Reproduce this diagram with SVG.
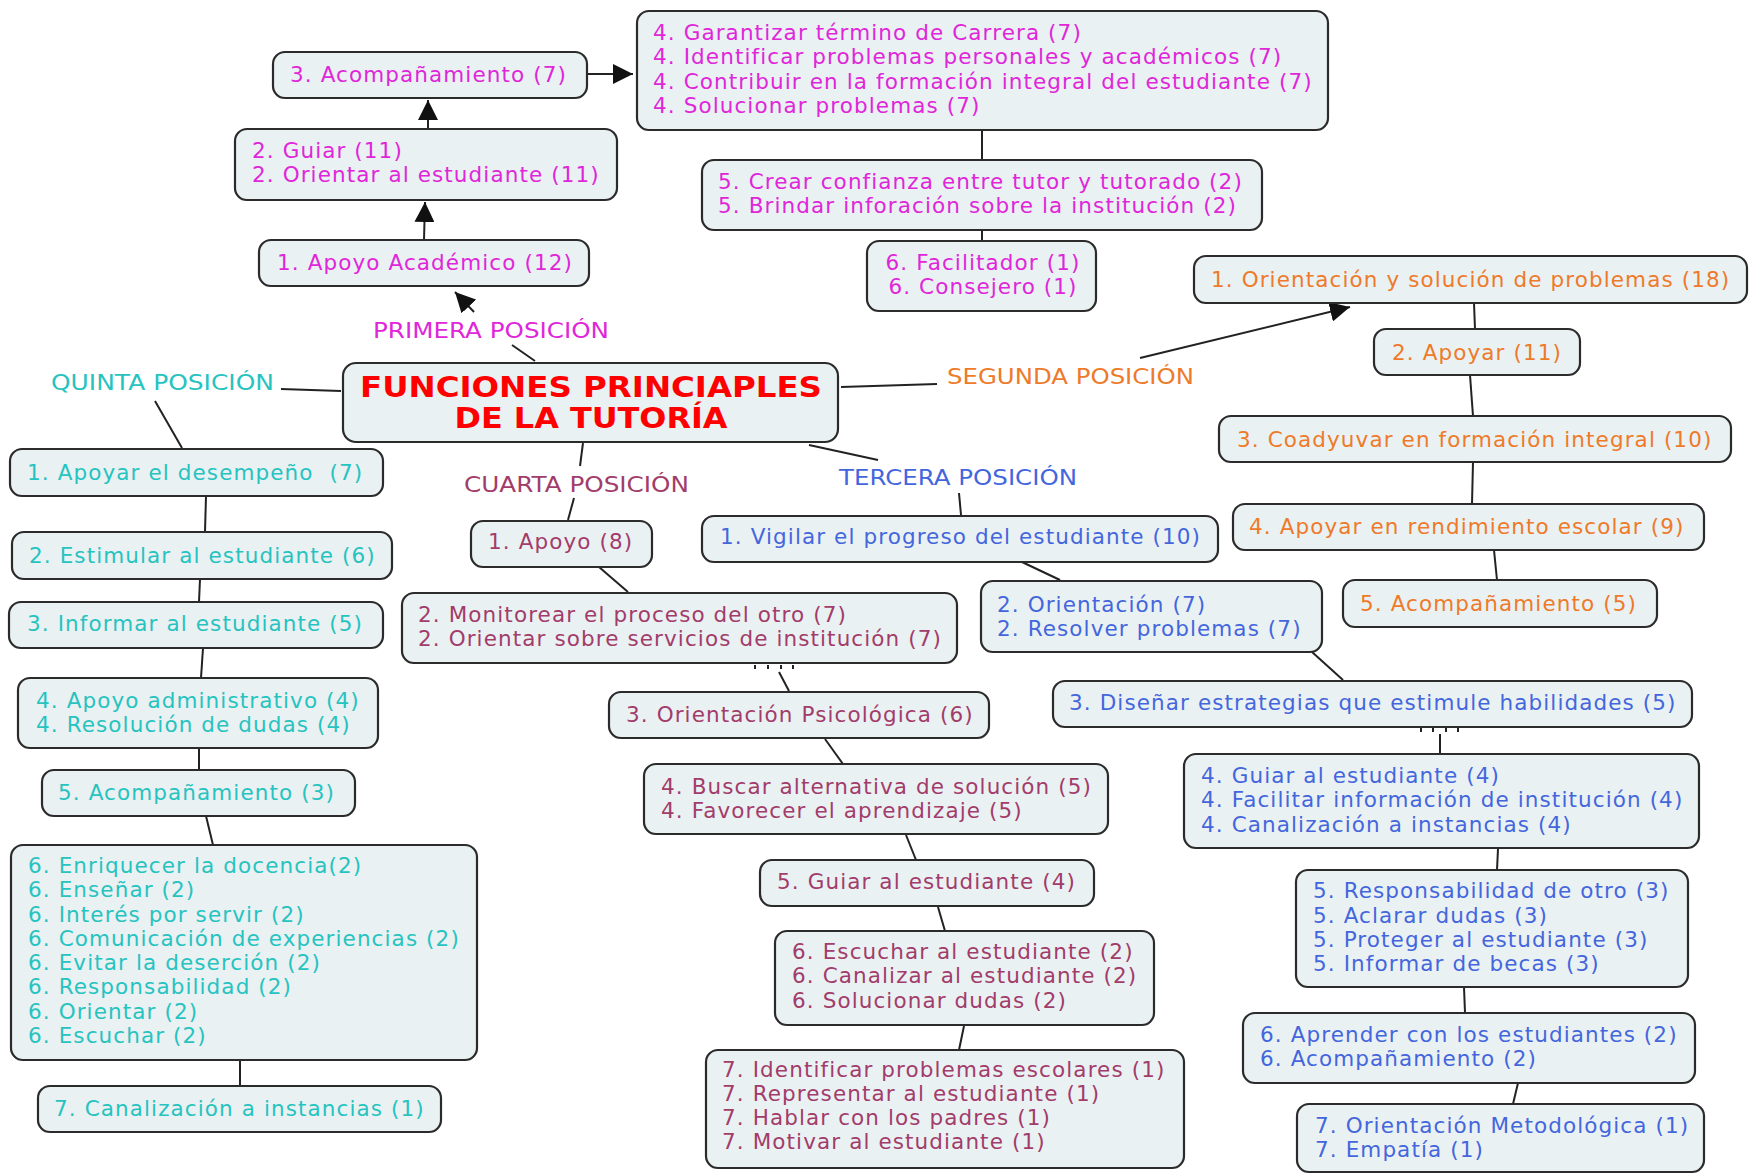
<svg xmlns="http://www.w3.org/2000/svg" width="1749" height="1174" viewBox="0 0 1749 1174">
<defs>
<marker id="ah" viewBox="0 0 10 10" refX="10" refY="5" markerWidth="20" markerHeight="20" markerUnits="userSpaceOnUse" orient="auto"><path d="M0,0 L10,5 L0,10 z" fill="#111"/></marker>
<style>
.box{fill:#eaf1f3;stroke:#2b2b2b;stroke-width:2.2}
text{font-family:"DejaVu Sans",Verdana,sans-serif;font-size:21.5px;letter-spacing:1.1px}
.pk{fill:#e026d9}.or{fill:#ee7a2a}.cy{fill:#26c3c0}.mr{fill:#a23c6a}.bl{fill:#4466dd}
.lbl{letter-spacing:0;font-size:20.5px}
.ttl{fill:#f00;font-weight:bold;font-size:28px;letter-spacing:0}
.cn line,.cn path{stroke:#222;stroke-width:2;fill:none}
.arr{marker-end:url(#ah)}
</style>
</defs>
<rect width="1749" height="1174" fill="#fff"/>

<g class="cn" id="connectors">
<line x1="535" y1="361" x2="512" y2="345"/>
<line class="arr" x1="474" y1="312" x2="455" y2="292"/>
<line class="arr" x1="424" y1="240" x2="425" y2="202"/>
<line class="arr" x1="428" y1="129" x2="428" y2="100"/>
<line class="arr" x1="588" y1="74" x2="633" y2="74"/>
<line x1="982" y1="130" x2="982" y2="159"/>
<line x1="982" y1="230" x2="982" y2="241"/>
<line x1="841" y1="387" x2="937" y2="384"/>
<line class="arr" x1="1140" y1="358" x2="1350" y2="307"/>
<line x1="1474" y1="303" x2="1475" y2="329"/>
<line x1="1470" y1="375" x2="1473" y2="416"/>
<line x1="1473" y1="462" x2="1472" y2="504"/>
<line x1="1494" y1="550" x2="1497" y2="580"/>
<line x1="281" y1="389" x2="341" y2="391"/>
<line x1="155" y1="401" x2="182" y2="448"/>
<line x1="206" y1="496" x2="205" y2="532"/>
<line x1="200" y1="579" x2="199" y2="602"/>
<line x1="203" y1="648" x2="201" y2="678"/>
<line x1="199" y1="748" x2="199" y2="770"/>
<line x1="206" y1="816" x2="213" y2="845"/>
<line x1="240" y1="1060" x2="240" y2="1086"/>
<line x1="583" y1="443" x2="580" y2="466"/>
<line x1="574" y1="498" x2="568" y2="520"/>
<line x1="599" y1="567" x2="628" y2="592"/>
<path d="M755,665 v4 M768,665 v4 M781,665 v4 M793,665 v4"/>
<line x1="779" y1="672" x2="789" y2="691"/>
<line x1="825" y1="739" x2="843" y2="764"/>
<line x1="906" y1="835" x2="916" y2="860"/>
<line x1="938" y1="907" x2="945" y2="931"/>
<line x1="964" y1="1026" x2="959" y2="1050"/>
<line x1="809" y1="445" x2="878" y2="460"/>
<line x1="959" y1="493" x2="961" y2="515"/>
<line x1="1022" y1="562" x2="1060" y2="580"/>
<line x1="1312" y1="652" x2="1343" y2="680"/>
<path d="M1421,728 v4 M1433,728 v4 M1446,728 v4 M1458,728 v4"/>
<line x1="1440" y1="734" x2="1440" y2="753"/>
<line x1="1498" y1="849" x2="1497" y2="870"/>
<line x1="1464" y1="987" x2="1465" y2="1013"/>
<line x1="1518" y1="1083" x2="1513" y2="1104"/>
</g>

<g id="title">
<rect class="box" x="343" y="363" width="495" height="79" rx="13"/>
<text class="ttl" x="591" y="397" text-anchor="middle" textLength="462" lengthAdjust="spacingAndGlyphs">FUNCIONES PRINCIAPLES</text>
<text class="ttl" x="591" y="428" text-anchor="middle" textLength="273" lengthAdjust="spacingAndGlyphs">DE LA TUTORÍA</text>
</g>

<g id="labels">
<text class="pk lbl" x="373" y="338" textLength="236" lengthAdjust="spacingAndGlyphs">PRIMERA POSICIÓN</text>
<text class="or lbl" x="947" y="384" textLength="247" lengthAdjust="spacingAndGlyphs">SEGUNDA POSICIÓN</text>
<text class="bl lbl" x="839" y="485" textLength="238" lengthAdjust="spacingAndGlyphs">TERCERA POSICIÓN</text>
<text class="mr lbl" x="464" y="492" textLength="225" lengthAdjust="spacingAndGlyphs">CUARTA POSICIÓN</text>
<text class="cy lbl" x="51" y="390" textLength="223" lengthAdjust="spacingAndGlyphs">QUINTA POSICIÓN</text>
</g>

<g id="p1"><rect class="box" x="259" y="240" width="330" height="46" rx="12"/><text class="pk" x="277" y="270">1. Apoyo Académico (12)</text></g>
<g id="p2"><rect class="box" x="235" y="129" width="382" height="71" rx="12"/><text class="pk" x="252" y="158">2. Guiar (11)</text><text class="pk" x="252" y="182">2. Orientar al estudiante (11)</text></g>
<g id="p3"><rect class="box" x="273" y="52" width="314" height="46" rx="12"/><text class="pk" x="290" y="82">3. Acompañamiento (7)</text></g>
<g id="p4"><rect class="box" x="637" y="11" width="691" height="119" rx="12"/>
<text class="pk" x="653" y="40">4. Garantizar término de Carrera (7)</text>
<text class="pk" x="653" y="64">4. Identificar problemas personales y académicos (7)</text>
<text class="pk" x="653" y="89">4. Contribuir en la formación integral del estudiante (7)</text>
<text class="pk" x="653" y="113">4. Solucionar problemas (7)</text></g>
<g id="p5"><rect class="box" x="702" y="160" width="560" height="70" rx="12"/>
<text class="pk" x="718" y="189">5. Crear confianza entre tutor y tutorado (2)</text>
<text class="pk" x="718" y="213">5. Brindar inforación sobre la institución (2)</text></g>
<g id="p6"><rect class="box" x="867" y="241" width="229" height="70" rx="12"/>
<text class="pk" x="983" y="270" text-anchor="middle">6. Facilitador (1)</text>
<text class="pk" x="983" y="294" text-anchor="middle">6. Consejero (1)</text></g>

<g id="s1"><rect class="box" x="1194" y="256" width="553" height="47" rx="12"/><text class="or" x="1211" y="287">1. Orientación y solución de problemas (18)</text></g>
<g id="s2"><rect class="box" x="1374" y="329" width="206" height="46" rx="12"/><text class="or" x="1392" y="360">2. Apoyar (11)</text></g>
<g id="s3"><rect class="box" x="1219" y="416" width="512" height="46" rx="12"/><text class="or" x="1237" y="447">3. Coadyuvar en formación integral (10)</text></g>
<g id="s4"><rect class="box" x="1233" y="504" width="471" height="46" rx="12"/><text class="or" x="1249" y="534">4. Apoyar en rendimiento escolar (9)</text></g>
<g id="s5"><rect class="box" x="1343" y="580" width="314" height="47" rx="12"/><text class="or" x="1360" y="611">5. Acompañamiento (5)</text></g>

<g id="t1"><rect class="box" x="702" y="516" width="516" height="46" rx="12"/><text class="bl" x="720" y="544">1. Vigilar el progreso del estudiante (10)</text></g>
<g id="t2"><rect class="box" x="981" y="581" width="341" height="71" rx="12"/><text class="bl" x="997" y="612">2. Orientación (7)</text><text class="bl" x="997" y="636">2. Resolver problemas (7)</text></g>
<g id="t3"><rect class="box" x="1053" y="681" width="639" height="46" rx="12"/><text class="bl" x="1069" y="710">3. Diseñar estrategias que estimule habilidades (5)</text></g>
<g id="t4"><rect class="box" x="1184" y="754" width="515" height="94" rx="12"/>
<text class="bl" x="1201" y="783">4. Guiar al estudiante (4)</text>
<text class="bl" x="1201" y="807">4. Facilitar información de institución (4)</text>
<text class="bl" x="1201" y="832">4. Canalización a instancias (4)</text></g>
<g id="t5"><rect class="box" x="1296" y="870" width="392" height="117" rx="12"/>
<text class="bl" x="1313" y="898">5. Responsabilidad de otro (3)</text>
<text class="bl" x="1313" y="923">5. Aclarar dudas (3)</text>
<text class="bl" x="1313" y="947">5. Proteger al estudiante (3)</text>
<text class="bl" x="1313" y="971">5. Informar de becas (3)</text></g>
<g id="t6"><rect class="box" x="1243" y="1013" width="452" height="70" rx="12"/>
<text class="bl" x="1260" y="1042">6. Aprender con los estudiantes (2)</text>
<text class="bl" x="1260" y="1066">6. Acompañamiento (2)</text></g>
<g id="t7"><rect class="box" x="1297" y="1104" width="407" height="68" rx="12"/>
<text class="bl" x="1315" y="1133">7. Orientación Metodológica (1)</text>
<text class="bl" x="1315" y="1157">7. Empatía (1)</text></g>

<g id="c1"><rect class="box" x="471" y="521" width="181" height="46" rx="12"/><text class="mr" x="488" y="549">1. Apoyo (8)</text></g>
<g id="c2"><rect class="box" x="402" y="593" width="555" height="70" rx="12"/>
<text class="mr" x="418" y="622">2. Monitorear el proceso del otro (7)</text>
<text class="mr" x="418" y="646">2. Orientar sobre servicios de institución (7)</text></g>
<g id="c3"><rect class="box" x="609" y="692" width="380" height="46" rx="12"/><text class="mr" x="626" y="722">3. Orientación Psicológica (6)</text></g>
<g id="c4"><rect class="box" x="644" y="764" width="464" height="70" rx="12"/>
<text class="mr" x="661" y="794">4. Buscar alternativa de solución (5)</text>
<text class="mr" x="661" y="818">4. Favorecer el aprendizaje (5)</text></g>
<g id="c5"><rect class="box" x="760" y="860" width="334" height="46" rx="12"/><text class="mr" x="777" y="889">5. Guiar al estudiante (4)</text></g>
<g id="c6"><rect class="box" x="775" y="931" width="379" height="94" rx="12"/>
<text class="mr" x="792" y="959">6. Escuchar al estudiante (2)</text>
<text class="mr" x="792" y="983">6. Canalizar al estudiante (2)</text>
<text class="mr" x="792" y="1008">6. Solucionar dudas (2)</text></g>
<g id="c7"><rect class="box" x="706" y="1050" width="478" height="118" rx="12"/>
<text class="mr" x="722" y="1077">7. Identificar problemas escolares (1)</text>
<text class="mr" x="722" y="1101">7. Representar al estudiante (1)</text>
<text class="mr" x="722" y="1125">7. Hablar con los padres (1)</text>
<text class="mr" x="722" y="1149">7. Motivar al estudiante (1)</text></g>

<g id="q1"><rect class="box" x="10" y="449" width="373" height="47" rx="12"/><text class="cy" x="27" y="480" xml:space="preserve">1. Apoyar el desempeño  (7)</text></g>
<g id="q2"><rect class="box" x="12" y="532" width="380" height="47" rx="12"/><text class="cy" x="29" y="563">2. Estimular al estudiante (6)</text></g>
<g id="q3"><rect class="box" x="9" y="602" width="374" height="46" rx="12"/><text class="cy" x="27" y="631">3. Informar al estudiante (5)</text></g>
<g id="q4"><rect class="box" x="18" y="678" width="360" height="70" rx="12"/>
<text class="cy" x="36" y="708">4. Apoyo administrativo (4)</text>
<text class="cy" x="36" y="732">4. Resolución de dudas (4)</text></g>
<g id="q5"><rect class="box" x="42" y="770" width="313" height="46" rx="12"/><text class="cy" x="58" y="800">5. Acompañamiento (3)</text></g>
<g id="q6"><rect class="box" x="11" y="845" width="466" height="215" rx="12"/>
<text class="cy" x="28" y="873">6. Enriquecer la docencia(2)</text>
<text class="cy" x="28" y="897">6. Enseñar (2)</text>
<text class="cy" x="28" y="922">6. Interés por servir (2)</text>
<text class="cy" x="28" y="946">6. Comunicación de experiencias (2)</text>
<text class="cy" x="28" y="970">6. Evitar la deserción (2)</text>
<text class="cy" x="28" y="994">6. Responsabilidad (2)</text>
<text class="cy" x="28" y="1019">6. Orientar (2)</text>
<text class="cy" x="28" y="1043">6. Escuchar (2)</text></g>
<g id="q7"><rect class="box" x="38" y="1086" width="403" height="46" rx="12"/><text class="cy" x="54" y="1116">7. Canalización a instancias (1)</text></g>
</svg>
